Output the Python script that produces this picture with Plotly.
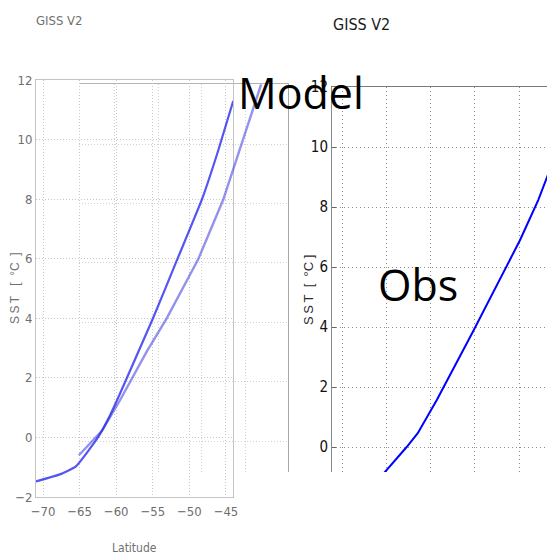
import plotly.graph_objects as go

W, H = 547, 554

# ---- data -------------------------------------------------------------
lat_ticks = [-70, -65, -60, -55, -50, -45]
sst_ticks = [-2, 0, 2, 4, 6, 8, 10, 12]

# GISS V2 model zonal-mean SST (left panel)
model_lat = [-71.0, -67.7, -65.5, -62.5, -60.85, -59.9, -54.97, -51.7, -48.3, -46.1, -44.0]
model_sst = [-1.48, -1.24, -0.97, 0.0, 0.74, 1.24, 4.0, 5.95, 7.98, 9.6, 11.3]

# overlaid (faded) curve on the left panel
overlay_lat = [-65.1, -61.9, -59.5, -55.8, -53.1, -48.8, -45.4, -42.5, -40.2]
overlay_sst = [-0.6, 0.24, 1.24, 2.9, 4.0, 5.98, 7.97, 10.1, 11.85]

# observed zonal-mean SST (right panel)
obs_lat = [-65.5, -63.6, -62.7, -61.45, -59.3, -55.3, -51.4, -49.9, -47.85, -46.5]
obs_sst = [-0.95, -0.33, 0.0, 0.46, 1.57, 3.8, 6.07, 6.9, 8.23, 9.27]


def px(p):
    return p / W


def py(p):
    return 1 - p / H


NARROW = "Liberation Sans Narrow, DejaVu Sans Condensed, Roboto Condensed, Liberation Sans"

fig = go.Figure()

# faint background frame (subplot x/y)
fig.add_trace(go.Scatter(x=[], y=[], xaxis="x", yaxis="y", showlegend=False, hoverinfo="skip"))
# left panel: model line
fig.add_trace(go.Scatter(x=model_lat, y=model_sst, xaxis="x2", yaxis="y2", mode="lines",
                         line=dict(color="rgba(20,20,240,0.72)", width=2.2, shape="spline",
                                   smoothing=0.4),
                         showlegend=False, hoverinfo="skip"))
# overlaid faded curve
fig.add_trace(go.Scatter(x=overlay_lat, y=overlay_sst, xaxis="x3", yaxis="y3", mode="lines",
                         line=dict(color="rgba(40,40,220,0.5)", width=2.4),
                         showlegend=False, hoverinfo="skip"))
# right panel: observations
fig.add_trace(go.Scatter(x=obs_lat, y=obs_sst, xaxis="x4", yaxis="y4", mode="lines",
                         line=dict(color="#0000ff", width=2),
                         showlegend=False, hoverinfo="skip"))

grid_faint = dict(showgrid=True, gridcolor="#d0d0d0", griddash="1px,2px", gridwidth=1, zeroline=False)

fig.update_layout(
    width=W, height=H, margin=dict(l=0, r=0, t=0, b=0, autoexpand=False),
    paper_bgcolor="white", plot_bgcolor="rgba(0,0,0,0)",
    xaxis=dict(domain=[px(79), px(288)], range=[-69.08, -45.06], tickvals=[-65, -60, -55, -50],
               showticklabels=False, side="top", showline=True, linecolor="#b4b4b4",
               anchor="y", ticks="", automargin=False, **grid_faint),
    yaxis=dict(domain=[py(472), py(84)], range=[-1.04, 12.02], tickvals=[0, 2, 4, 6, 8, 10],
               showticklabels=False, side="right", showline=True, linecolor="#a8a8a8",
               anchor="x", ticks="", automargin=False, **grid_faint),
    xaxis2=dict(domain=[px(36), px(233)], range=[-70.96, -44.04], tickvals=lat_ticks,
                anchor="y2", showline=True, mirror=True, linecolor="#c4c4c4",
                tickfont=dict(family=NARROW, size=13, color="#6e6e6e"), ticks="",
                ticklabelstandoff=2, automargin=False,
                showgrid=True, gridcolor="#c8c8c8", griddash="1px,2px", zeroline=False),
    yaxis2=dict(domain=[py(497), py(80)], range=[-2, 12], tickvals=sst_ticks,
                anchor="x2", showline=True, mirror=True, linecolor="#c4c4c4",
                tickfont=dict(family=NARROW, size=13, color="#6e6e6e"), ticks="",
                automargin=False,
                showgrid=True, gridcolor="#c8c8c8", griddash="1px,2px", zeroline=False),
    xaxis3=dict(domain=[px(36), px(288)], range=[-70.96, -36.53], visible=False, anchor="y3",
                automargin=False),
    yaxis3=dict(domain=[py(497), py(80)], range=[-2, 12], visible=False, anchor="x3",
                automargin=False),
    xaxis4=dict(domain=[px(332), 1], range=[-71.13, -46.86], tickvals=lat_ticks,
                anchor="y4", side="top", showline=True, linecolor="#7a7a7a",
                showticklabels=False, ticks="", automargin=False,
                showgrid=True, gridcolor="#8c8c8c", griddash="1px,3px", zeroline=False),
    yaxis4=dict(domain=[py(472), py(87)], range=[-0.833, 12], tickvals=[0, 2, 4, 6, 8, 10, 12],
                anchor="x4", showline=True, linecolor="#8a8a8a",
                tickfont=dict(family=NARROW, size=15, color="#111111"),
                ticks="inside", ticklen=4, tickcolor="#666666", automargin=False,
                showgrid=True, gridcolor="#8c8c8c", griddash="1px,3px", zeroline=False),
)

sst_left = "S\u2009S\u2009T\u00a0\u00a0\u00a0[\u00a0\u00a0°C\u00a0\u00a0]"
sst_right = "S\u2009S\u2009T\u00a0\u00a0[\u00a0\u00a0°C\u00a0]"

annotations = [
    dict(text="GISS V2", x=px(59), y=py(21), font=dict(family=NARROW, size=13, color="#707070")),
    dict(text="GISS V2", x=px(361), y=py(25), font=dict(family=NARROW, size=16, color="#1a1a1a")),
    dict(text="Latitude", x=px(134), y=py(548), font=dict(family=NARROW, size=12, color="#707070")),
    dict(text=sst_left, x=px(15), y=py(288), textangle=-90,
         font=dict(family="Liberation Sans, Arial", size=12, color="#707070")),
    dict(text=sst_right, x=px(308), y=py(290), textangle=-90,
         font=dict(family="Liberation Sans, Arial", size=13, color="#2a2a2a")),
    dict(text="Model", x=px(301), y=py(93), font=dict(family="Open Sans", size=43, color="black")),
    dict(text="Obs", x=px(418), y=py(284), font=dict(family="Open Sans", size=43, color="black")),
]
for a in annotations:
    a.update(xref="paper", yref="paper", showarrow=False, xanchor="center", yanchor="middle")
fig.update_layout(annotations=annotations)

fig.write_html("out.html")
